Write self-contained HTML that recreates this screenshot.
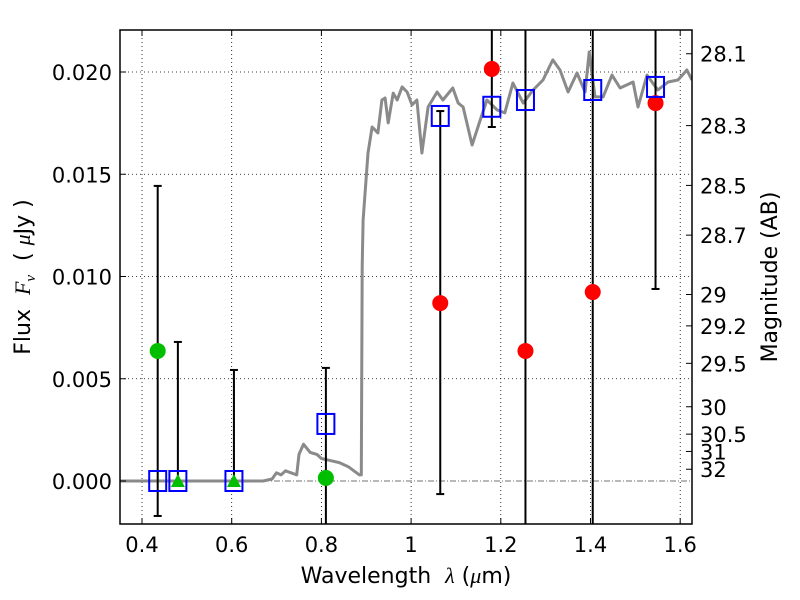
<!DOCTYPE html>
<html><head><meta charset="utf-8"><style>
html,body{margin:0;padding:0;background:#fff;width:800px;height:600px;overflow:hidden;}
svg{display:block;font-family:"DejaVu Sans","Liberation Sans",sans-serif;}
</style></head><body>
<svg id="chart" width="800" height="600" xmlns="http://www.w3.org/2000/svg">
<g id="grid"></g>
<g id="spec"></g>
<g id="marks"></g>
<g id="axes"></g>
</svg>
<script>
const xTicks=[0.4,0.6,0.8,1.0,1.2,1.4,1.6];
const xTickLabels=["0.4","0.6","0.8","1","1.2","1.4","1.6"];
const yTicks=[0,0.005,0.010,0.015,0.020];
const yTickLabels=["0.000","0.005","0.010","0.015","0.020"];
const magTicks=[28.1,28.3,28.5,28.7,29,29.2,29.5,30,30.5,31,32];
const specWave=[0.35,0.67,0.69,0.70,0.71,0.72,0.745,0.75,0.76,0.775,0.79,0.80,0.82,0.84,0.86,0.885,0.889,0.891,0.893,0.904,0.913,0.926,0.935,0.942,0.949,0.960,0.969,0.980,0.991,1.002,1.013,1.024,1.038,1.058,1.071,1.093,1.105,1.116,1.136,1.154,1.169,1.192,1.209,1.227,1.250,1.272,1.294,1.316,1.332,1.350,1.370,1.388,1.397,1.410,1.428,1.448,1.466,1.495,1.506,1.526,1.550,1.573,1.595,1.615,1.626];
const specFlux=[0,0,0.0001,0.0004,0.0003,0.0005,0.0003,0.0013,0.0018,0.0014,0.0013,0.0011,0.0010,0.0009,0.0007,0.0003,0.0003,0.0105,0.01276,0.01604,0.01731,0.01702,0.01863,0.01873,0.01751,0.01897,0.01863,0.01927,0.01902,0.01839,0.01863,0.01604,0.01829,0.01902,0.01863,0.01922,0.01848,0.01829,0.01643,0.01765,0.01863,0.01814,0.01800,0.01946,0.01848,0.01912,0.01961,0.02059,0.02010,0.01902,0.01995,0.01902,0.02098,0.01878,0.01878,0.01985,0.01922,0.01951,0.01829,0.01985,0.01912,0.01951,0.01961,0.02010,0.01961];
const modelWave=[0.435,0.48,0.605,0.81,1.065,1.18,1.255,1.405,1.545];
const modelFlux=[0,0,0,0.00279,0.01785,0.0183,0.01863,0.01912,0.01927];
const errWave=[0.435,0.48,0.605,0.81,1.065,1.18,1.255,1.405,1.545];
const errLow=[-0.00171,0,0,-0.01,-0.00064,0.01731,-0.01,-0.01,0.00939];
const errHigh=[0.01443,0.0068,0.00543,0.00553,0.01809,0.04,0.04,0.04,0.04];
const errLowCap=[1,0,0,0,1,1,0,0,1];
const errHighCap=[1,1,1,1,1,0,0,0,0];
const greenWave=[0.435,0.81];
const greenFlux=[0.00636,0.00015];
const triWave=[0.48,0.605];
const triFlux=[0,0];
const redWave=[1.065,1.18,1.255,1.405,1.545];
const redFlux=[0.0087,0.02015,0.00636,0.00924,0.01848];

const L=120,R=692,T=30,B=524;
const X=v=>142+(v-0.4)*448.5;
const Y=v=>481-v*20450;
const NS="http://www.w3.org/2000/svg";
function mk(tag,parent,attrs){const e=document.createElementNS(NS,tag);for(const k in attrs)e.setAttribute(k,attrs[k]);parent.appendChild(e);return e;}
const grid=document.getElementById('grid'),spec=document.getElementById('spec'),marks=document.getElementById('marks'),axes=document.getElementById('axes');
const clip=mk('clipPath',document.getElementById('chart'),{id:'pc'});mk('rect',clip,{x:L,y:T,width:R-L,height:B-T});
spec.setAttribute('clip-path','url(#pc)');marks.setAttribute('clip-path','url(#pc)');

xTicks.forEach((t,i)=>{
  const g=mk('line',grid,{x1:X(t),x2:X(t),y1:T,y2:B,stroke:'#000','stroke-width':0.8,'stroke-dasharray':'1,3'});
  
  mk('line',axes,{x1:X(t),x2:X(t),y1:B,y2:B-6,stroke:'#000'});
  mk('line',axes,{x1:X(t),x2:X(t),y1:T,y2:T+6,stroke:'#000'});
  const tx=mk('text',axes,{x:X(t),y:B+28,'text-anchor':'middle','font-size':21});tx.textContent=xTickLabels[i];
  
});
yTicks.forEach((t,i)=>{
  if(t!==0){const g=mk('line',grid,{x1:L,x2:R,y1:Y(t),y2:Y(t),stroke:'#000','stroke-width':0.8,'stroke-dasharray':'1,3'});
  }
  mk('line',axes,{x1:L,x2:L+6,y1:Y(t),y2:Y(t),stroke:'#000'});
  const tx=mk('text',axes,{x:112,y:Y(t)+8,'text-anchor':'end','font-size':21});tx.textContent=yTickLabels[i];
  
});
const zl=mk('line',grid,{x1:L,x2:R,y1:Y(0),y2:Y(0),stroke:'#444','stroke-width':0.8,'stroke-dasharray':'6,2,1,2'});

magTicks.forEach(m=>{
  const f=Math.pow(10,(23.9-m)/2.5);const y=Y(f);
  mk('line',axes,{x1:R,x2:R-6,y1:y,y2:y,stroke:'#000'});
  const tx=mk('text',axes,{x:700,y:y+8,'font-size':21});tx.textContent=String(m);
  
});
let d='';specWave.forEach((w,i)=>{d+=(i?'L':'M')+X(w).toFixed(1)+','+Y(specFlux[i]).toFixed(1);});
const sp=mk('path',spec,{d:d,fill:'none',stroke:'#8a8a8a','stroke-width':3,'stroke-linejoin':'round'});

errWave.forEach((w,i)=>{
  const x=X(w),y1=Y(errHigh[i]),y2=Y(errLow[i]);
  const e=mk('line',marks,{x1:x,x2:x,y1:y1,y2:y2,stroke:'#000','stroke-width':2});
  
  if(errHighCap[i])mk('line',marks,{x1:x-4,x2:x+4,y1:y1,y2:y1,stroke:'#000','stroke-width':2});
  if(errLowCap[i])mk('line',marks,{x1:x-4,x2:x+4,y1:y2,y2:y2,stroke:'#000','stroke-width':2});
});
greenWave.forEach((w,i)=>{const c=mk('circle',marks,{cx:X(w),cy:Y(greenFlux[i]),r:8,fill:'#00bf00'});
  });
triWave.forEach((w,i)=>{const x=X(w),y=Y(triFlux[i]);const p=mk('polygon',marks,{points:`${x},${y-7} ${x-7},${y+6} ${x+7},${y+6}`,fill:'#00bf00'});
  });
redWave.forEach((w,i)=>{const c=mk('circle',marks,{cx:X(w),cy:Y(redFlux[i]),r:8,fill:'#ff0000'});
  });
modelWave.forEach((w,i)=>{const r=mk('rect',marks,{x:X(w)-8.5,y:Y(modelFlux[i])-10,width:17,height:20,fill:'none',stroke:'#0000ff','stroke-width':2});
  });
const fr=mk('rect',axes,{x:L,y:T,width:R-L,height:B-T,fill:'none',stroke:'#000','stroke-width':1.5});

const xl=mk('text',axes,{x:406,y:583,'text-anchor':'middle','font-size':22});xl.innerHTML='Wavelength\u00a0\u00a0<tspan font-style="italic" font-family="Liberation Serif,serif">λ</tspan> (<tspan font-style="italic" font-family="Liberation Serif,serif">μ</tspan>m)';

const yl=mk('text',axes,{x:0,y:0,'text-anchor':'middle','font-size':22,transform:'translate(30,277) rotate(-90)'});yl.innerHTML='Flux\u00a0\u00a0<tspan font-style="italic" font-family="Liberation Serif,serif">F<tspan font-size="15" dy="5">ν</tspan></tspan><tspan dy="-5">\u00a0\u00a0(\u00a0</tspan><tspan font-style="italic" font-family="Liberation Serif,serif">μ</tspan>Jy\u00a0)';

const rl=mk('text',axes,{x:0,y:0,'text-anchor':'middle','font-size':22,transform:'translate(777,277) rotate(-90)'});rl.textContent='Magnitude (AB)';

</script>
</body></html>
